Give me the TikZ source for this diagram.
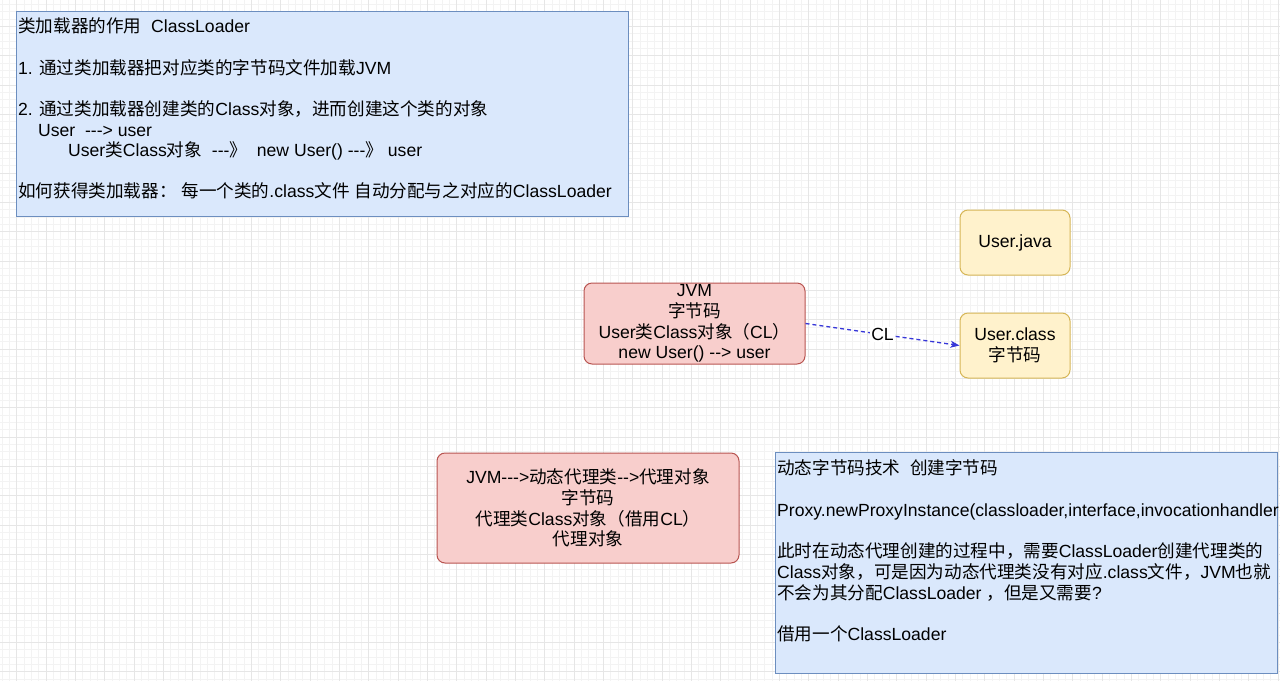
\documentclass[tikz,border=0pt]{standalone}
\usepackage{fontspec}
\usepackage{xcolor}
\setmainfont{Liberation Sans}
\newfontfamily\cjkfont{Noto Sans CJK SC}
\usetikzlibrary{arrows.meta}

% switch to the CJK font for ideographs and full-width marks
\XeTeXinterchartokenstate=1
\newXeTeXintercharclass\cjkclass
\newcount\cjkcode
\cjkcode="4E00
\loop
  \XeTeXcharclass\cjkcode=\cjkclass\relax
  \ifnum\cjkcode<"9FFF \advance\cjkcode by 1
\repeat
\XeTeXcharclass "FF08 =\cjkclass\relax
\XeTeXcharclass "FF09 =\cjkclass\relax
\XeTeXcharclass "FF0C =\cjkclass\relax
\XeTeXcharclass "FF1A =\cjkclass\relax
\XeTeXcharclass "300A =\cjkclass\relax
\XeTeXcharclass "300B =\cjkclass\relax
\XeTeXcharclass "3001 =\cjkclass\relax
\XeTeXcharclass "3002 =\cjkclass\relax
\XeTeXinterchartoks 0 \cjkclass = {\cjkfont}
\XeTeXinterchartoks 4095 \cjkclass = {\cjkfont}
\XeTeXinterchartoks \cjkclass 0 = {\rmfamily}
\XeTeXinterchartoks \cjkclass 4095 = {\rmfamily}

\definecolor{notefill}{HTML}{DAE8FC}
\definecolor{noteline}{HTML}{6C8EBF}
\definecolor{filefill}{HTML}{FFF2CC}
\definecolor{fileline}{HTML}{D6B656}
\definecolor{jvmfill}{HTML}{F8CECC}
\definecolor{jvmline}{HTML}{B85450}
\definecolor{clblue}{HTML}{3636D8}
\definecolor{minorcol}{HTML}{F3F3F3}
\definecolor{majorcol}{HTML}{E6E6E6}

\begin{document}
\begin{tikzpicture}[x=1pt,y=-1pt,
    every node/.style={font=\fontsize{17.6}{20.8}\selectfont},
    minorgrid/.style={draw=minorcol, line width=0.8pt},
    majorgrid/.style={draw=majorcol, line width=0.8pt},
    notebox/.style={draw=noteline, fill=notefill, line width=1pt, inner sep=0pt},
    linetext/.style={anchor=west, inner sep=0pt, text height=15.5pt, text depth=2.1pt},
    filebox/.style={draw=fileline, fill=filefill, rounded corners=8pt, line width=1pt,
        inner sep=0pt, minimum width=110pt, minimum height=65pt, align=center},
    jvmbox/.style={draw=jvmline, fill=jvmfill, rounded corners=8pt, line width=1pt,
        inner sep=0pt, align=center},
    clarrow/.style={draw=clblue, line width=1.3pt, dash pattern=on 4pt off 3pt,
        -{Stealth[length=9pt,width=7pt,inset=2.5pt]}},
    cllabel/.style={fill=white, inner sep=1pt}]
    \useasboundingbox (0,0) rectangle (1280,681);
    \clip (0,0) rectangle (1280,681);
    \fill[white] (0,0) rectangle (1280,681);
    % background grid
    \foreach \k in {0,...,174} \draw[minorgrid] ({2+7.333*\k},0) -- ++(0,681);
    \foreach \k in {0,...,93} \draw[minorgrid] (0,{4.3+7.333*\k}) -- ++(1280,0);
    \foreach \k in {0,...,43} \draw[majorgrid] ({16.67+29.333*\k},0) -- ++(0,681);
    \foreach \k in {0,...,23} \draw[majorgrid] (0,{26.3+29.333*\k}) -- ++(1280,0);

    % what a class loader does
    \node[notebox, minimum width=611.5pt, minimum height=205pt] (loadernote) at (322.25,113.5) {};
    \node[linetext] (loadertitle) at (18,26) {类加载器的作用\ \ ClassLoader};
    \node[linetext] (loaderone) at (18,68) {1. 通过类加载器把对应类的字节码文件加载JVM};
    \node[linetext] (loadertwo) at (18,109) {2. 通过类加载器创建类的Class对象，进而创建这个类的对象};
    \node[linetext] (loaderuser) at (38,129.5) {User\ \ -{}-{}-> user};
    \node[linetext] (loaderchain) at (68,150) {User类Class对象\ \ -{}-{}-》\ \ new User() -{}-{}-》 user};
    \node[linetext] (loaderhow) at (18,191) {如何获得类加载器： 每一个类的.class文件 自动分配与之对应的ClassLoader};

    % files
    \node[filebox] (javafile) at (1015,242.5) {User.java};
    \node[filebox] (classfile) at (1015,345.5) {User.class\\字节码};

    % jvm side
    \node[jvmbox, minimum width=221pt, minimum height=81pt] (jvm) at (694.5,323.5)
        {JVM\\字节码\\User类Class对象（CL）\\new User() -{}-> user};
    \node[jvmbox, minimum width=302pt, minimum height=110pt] (proxy) at (588,508)
        {JVM-{}-{}->动态代理类-{}->代理对象\\字节码\\代理类Class对象（借用CL）\\代理对象};

    \draw[clarrow] (jvm.east) -- node[cllabel] (cl) {CL} (classfile.west);

    % dynamic bytecode note
    \node[notebox, minimum width=502pt, minimum height=220.5pt] (proxynote) at (1026,562.75) {};
    \node[linetext] (proxytitle) at (777,468) {动态字节码技术\ \ 创建字节码};
    \node[linetext] (proxycall) at (777,510) {Proxy.newProxyInstance(classloader,interface,invocationhandler};
    \node[linetext] (proxywhy) at (777,551) {此时在动态代理创建的过程中，需要ClassLoader创建代理类的};
    \node[linetext] (proxywhytwo) at (777,572) {Class对象，可是因为动态代理类没有对应.class文件，JVM也就};
    \node[linetext] (proxywhythree) at (777,593) {不会为其分配ClassLoader ，但是又需要?};
    \node[linetext] (proxyborrow) at (777,634) {借用一个ClassLoader};
\end{tikzpicture}
\end{document}
